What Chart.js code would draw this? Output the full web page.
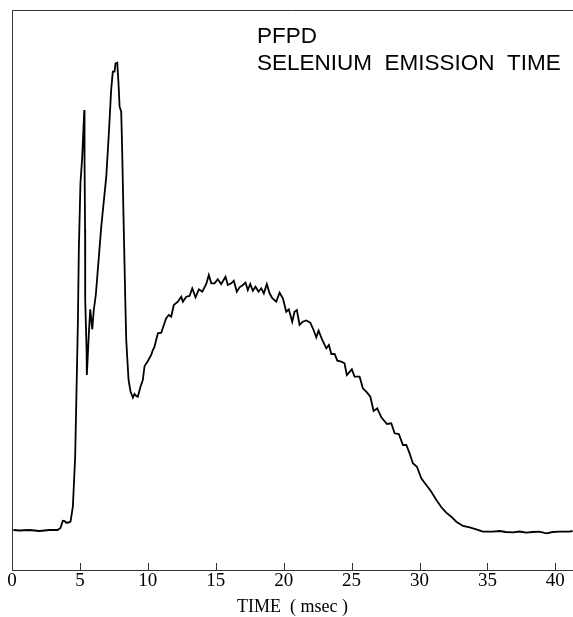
<!DOCTYPE html>
<html>
<head>
<meta charset="utf-8">
<script src="https://cdn.jsdelivr.net/npm/chart.js@4/dist/chart.umd.min.js"></script>
<style>
  html, body { margin: 0; padding: 0; background: #fff; }
  #wrap { position: relative; width: 573px; height: 617px; }
</style>
</head>
<body>
<div id="wrap"><canvas id="c" width="573" height="617"></canvas></div>
<script>
// Time (msec)
const timeMs = [
  0.1, 0.55, 1.29, 2.02, 2.76, 3.35, 3.57, 3.74, 3.87, 3.99, 4.16, 4.31, 4.48, 4.65, 4.75, 4.85, 4.92,
  5.04, 5.17, 5.32, 5.34, 5.38, 5.39, 5.49, 5.51, 5.66, 5.76, 5.91, 6.02, 6.17, 6.57, 6.94, 7.13, 7.30,
  7.42, 7.55, 7.62, 7.75, 7.84, 7.92, 8.04, 8.11, 8.21, 8.34, 8.41, 8.58, 8.73, 8.90, 9.02, 9.15, 9.26,
  9.46, 9.63, 9.76, 9.96, 10.25, 10.37, 10.49, 10.74, 10.99, 11.18, 11.35, 11.55, 11.72, 11.91, 12.21,
  12.46, 12.58, 12.83, 13.07, 13.27, 13.51, 13.76, 14.01, 14.30, 14.49, 14.67, 14.91, 15.15, 15.40,
  15.72, 15.89, 16.14, 16.33, 16.55, 16.75, 17.0, 17.19, 17.36, 17.54, 17.73, 17.93, 18.15, 18.35,
  18.54, 18.76, 18.96, 19.16, 19.45, 19.70, 19.94, 20.19, 20.38, 20.63, 20.80, 20.97, 21.17, 21.41,
  21.66, 21.96, 22.20, 22.40, 22.57, 22.84, 23.14, 23.33, 23.51, 23.75, 23.95, 24.24, 24.48, 24.65,
  25.02, 25.22, 25.59, 25.83, 26.08, 26.38, 26.62, 26.89, 27.19, 27.60, 27.92, 28.17, 28.48, 28.78,
  29.03, 29.27, 29.51, 29.81, 30.13, 30.50, 30.87, 31.24, 31.61, 31.97, 32.34, 32.71, 33.20, 33.69,
  34.18, 34.67, 35.40, 35.90, 36.34, 36.88, 37.37, 37.86, 38.33, 38.82, 39.34, 39.80, 40.31, 41.05, 41.27
];
// Emission signal (arbitrary units)
const emission = [
  40, 39.5, 40, 39, 40, 40, 42, 49.3, 49, 47.3, 47.5, 48.3, 63.3, 113.3, 180, 247, 320,
  387, 413.3, 460, 410, 340, 270, 220, 195, 237, 260.7, 240.7, 260, 275, 343.3, 393.3, 436.7, 480,
  498.3, 498.3, 506.7, 507.3, 487, 463.3, 458.3, 420, 353.3, 270, 230, 190, 178.3, 172.3, 176, 174, 173.3,
  183.3, 190, 204, 208, 215, 220, 223.3, 236.7, 237.3, 245, 251.7, 255, 253.3, 265, 268.3,
  273.3, 268.3, 273.3, 274, 281.7, 272.7, 280.7, 278.3, 286, 295, 286.7, 286.7, 290.7, 286,
  293.3, 285, 286.7, 289.3, 278.3, 282.7, 285, 287.3, 280, 286, 279.3, 283.3, 278.3, 281.7,
  276.7, 286, 276.7, 271.7, 268.3, 277.3, 271.7, 258.3, 260.7, 248.3, 258.3, 260, 245, 248.3,
  249.5, 247.3, 240, 232.7, 239.3, 230, 221.7, 225, 216, 216, 209.3, 208.3, 206.7, 195,
  200.7, 193.3, 193.3, 181.7, 178.3, 173.3, 159, 161.7, 152.7, 146, 146.7, 136.7, 136, 125,
  125, 116.7, 106.7, 103.3, 91.7, 85, 78.3, 70, 62.7, 57.3, 53.3, 48.3, 44, 42.7,
  40.7, 38.3, 38.3, 39, 38, 37.7, 38.5, 37.3, 38, 38.3, 36.7, 38, 38.3, 38.3, 39
];
const xTicks = [0, 5, 10, 15, 20, 25, 30, 35, 40];
const titleLines = ["PFPD", "SELENIUM  EMISSION  TIME"];
const xAxisTitle = "TIME  ( msec )";

const points = timeMs.map((t, i) => ({ x: t, y: emission[i] }));

const framePlugin = {
  id: 'frame',
  afterDraw(chart) {
    const { ctx, chartArea: a, scales } = chart;
    ctx.save();
    ctx.strokeStyle = '#333';
    ctx.lineWidth = 1;
    ctx.beginPath();
    ctx.moveTo(a.left + 0.5, a.bottom);
    ctx.lineTo(a.left + 0.5, a.top + 0.5);
    ctx.lineTo(a.right, a.top + 0.5);
    ctx.stroke();
    // inward ticks
    const xs = scales.x;
    ctx.beginPath();
    xs.ticks.forEach(tk => {
      const px = Math.round(xs.getPixelForValue(tk.value)) + 0.5;
      ctx.moveTo(px, a.bottom);
      ctx.lineTo(px, a.bottom - 7);
    });
    ctx.stroke();
    // title text
    ctx.fillStyle = '#000';
    ctx.font = '22.5px "Liberation Sans", Arial, sans-serif';
    ctx.textBaseline = 'alphabetic';
    ctx.textAlign = 'left';
    ctx.fillText(titleLines[0], 257, 43);
    ctx.fillText(titleLines[1], 257, 70);
    ctx.restore();
  }
};

new Chart(document.getElementById('c'), {
  type: 'line',
  data: {
    datasets: [{
      data: points,
      borderColor: '#000',
      borderWidth: 1.8,
      pointRadius: 0,
      tension: 0,
      fill: false
    }]
  },
  options: {
    responsive: false,
    animation: false,
    layout: { padding: { left: 12, right: 0, top: 10, bottom: 0 } },
    plugins: { legend: { display: false }, tooltip: { enabled: false }, title: { display: false } },
    scales: {
      x: {
        type: 'linear',
        min: 0,
        max: 41.3,
        afterBuildTicks: (s) => { s.ticks = xTicks.map(v => ({ value: v })); },
        grid: { display: true, drawOnChartArea: false, drawTicks: false },
        border: { display: true, color: '#333', width: 1 },
        ticks: {
          color: '#000',
          padding: 2,
          maxRotation: 0,
          autoSkip: false,
          font: { family: '"Liberation Serif", "Times New Roman", serif', size: 19, lineHeight: 1 },
          callback: (v) => String(v)
        },
        title: {
          display: true,
          text: xAxisTitle,
          color: '#000',
          padding: { top: 5, bottom: 1 },
          font: { family: '"Liberation Serif", "Times New Roman", serif', size: 18, lineHeight: 1 }
        }
      },
      y: {
        display: false,
        min: 0,
        max: 560
      }
    }
  },
  plugins: [framePlugin]
});
</script>
</body>
</html>
